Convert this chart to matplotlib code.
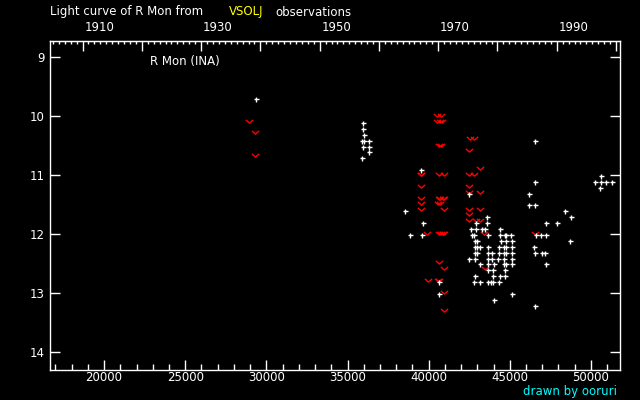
import matplotlib
matplotlib.use("Agg")
import matplotlib.pyplot as plt
from matplotlib.path import Path
from matplotlib.ticker import MultipleLocator, FixedLocator, NullFormatter

# ---- data: JD-2400000 and visual magnitude ----
obs_jd = [29382,
          35973, 35973, 36016, 35911, 36034, 36324, 35954, 36324, 36342, 35911,
          39540, 42497, 38560, 39669, 43611, 42934, 43593, 38868, 39607,
          40654, 40654, 44042, 45151,
          42626, 42934, 43303, 43488, 44411,
          42700, 42811, 43660, 44411, 44690, 44781, 45089,
          42872, 42977, 44473, 44781, 45114,
          42872, 43000, 43180, 43660, 44350, 44658, 44781, 45114,
          42872, 42977, 43660, 43919, 44350, 44658, 44781, 45114,
          42503, 42872, 43660, 43919, 44288, 44658, 45114,
          43180, 43660, 44042, 44658, 44781, 45114,
          43660, 43950, 44720,
          42872, 43980, 44411, 44720,
          42811, 43180, 43660, 43830, 43980, 44350,
          46568, 46568, 46180, 46198, 46568, 48416, 48786, 47247, 47925,
          46611, 46938, 47247, 48724, 46506, 46568, 47000, 47185, 47247, 46549,
          50634, 50264, 50616, 50942, 51312, 50573]
obs_mag = [9.71,
           10.12, 10.22, 10.32, 10.42, 10.42, 10.42, 10.53, 10.53, 10.61, 10.71,
           10.92, 11.32, 11.61, 11.81, 11.71, 11.81, 11.81, 12.02, 12.02,
           12.81, 13.02, 13.12, 13.02,
           11.92, 11.92, 11.92, 11.92, 11.92,
           12.02, 12.02, 12.02, 12.02, 12.02, 12.02, 12.02,
           12.12, 12.12, 12.12, 12.12, 12.12,
           12.22, 12.22, 12.22, 12.22, 12.22, 12.22, 12.22, 12.22,
           12.32, 12.32, 12.32, 12.32, 12.32, 12.32, 12.32, 12.32,
           12.42, 12.42, 12.42, 12.42, 12.42, 12.42, 12.42,
           12.51, 12.51, 12.51, 12.51, 12.51, 12.51,
           12.61, 12.61, 12.61,
           12.71, 12.71, 12.71, 12.71,
           12.81, 12.81, 12.81, 12.81, 12.81, 12.81,
           10.42, 11.12, 11.32, 11.51, 11.51, 11.61, 11.71, 11.81, 11.81,
           12.02, 12.02, 12.02, 12.12, 12.22, 12.32, 12.32, 12.32, 12.51, 13.22,
           11.02, 11.12, 11.12, 11.12, 11.12, 11.22]

lim_jd = [28950, 29320, 29320,
          40544, 40760, 40544, 40698, 40822, 40660, 40760,
          42522, 42811, 42497,
          39546, 39520, 40654, 40962, 42497, 42811, 43180,
          39546, 42497, 43180, 42460,
          39527, 40654, 40720, 40962, 40880,
          39546, 40678, 40600,
          39546, 40962, 42497, 43180,
          42497, 42497, 42909, 43180,
          43426, 39909, 40654, 40962, 40880, 40740,
          40617, 40962, 39934, 40617, 40580, 40962, 40962, 43488, 46568]
lim_mag = [10.08, 10.28, 10.67,
           9.98, 9.98, 10.08, 10.08, 10.08, 10.49, 10.49,
           10.38, 10.38, 10.58,
           10.98, 10.98, 10.98, 10.98, 10.98, 10.98, 10.88,
           11.18, 11.18, 11.29, 11.29,
           11.39, 11.39, 11.39, 11.39, 11.39,
           11.47, 11.47, 11.47,
           11.57, 11.57, 11.57, 11.57,
           11.67, 11.77, 11.77, 11.77,
           11.98, 11.98, 11.98, 11.98, 11.98, 11.98,
           12.47, 12.58, 12.78, 12.78, 12.78, 12.98, 13.29, 12.58, 11.98]

x_ticks = [20000, 25000, 30000, 35000, 40000, 45000, 50000]
y_ticks = [9, 10, 11, 12, 13, 14]
year_labels = [1910, 1930, 1950, 1970, 1990]

plt.rcParams['lines.antialiased'] = False
fs = 8.5

fig = plt.figure(figsize=(6.4, 4.0), dpi=100, facecolor='black')
ax = fig.add_axes([50/640, 1-370/400, 570/640, 329/400], facecolor='black')

vmark = Path([(-1, 0.45), (0, -0.45), (1, 0.45)], [Path.MOVETO, Path.LINETO, Path.LINETO])
ax.plot(lim_jd, lim_mag, ls='none', marker=vmark, ms=5.2, mfc='none', mec='red', mew=1.0)
ax.plot(obs_jd, obs_mag, ls='none', marker='+', ms=3.6, mec='white', mew=1.0)

ax.set_xlim(16667, 51790)
ax.set_ylim(14.305, 8.73)

for s in ax.spines.values():
    s.set_color('white')
    s.set_linewidth(1.0)

ax.xaxis.set_major_locator(FixedLocator(x_ticks))
ax.xaxis.set_minor_locator(MultipleLocator(1000))
ax.yaxis.set_major_locator(FixedLocator(y_ticks))
ax.tick_params(axis='x', which='major', direction='in', length=7.2, width=1, color='white',
               labelcolor='white', labelsize=fs, pad=1)
ax.tick_params(axis='x', which='minor', direction='in', length=4.3, width=1, color='white')
ax.tick_params(axis='y', which='major', direction='in', length=7.2, width=1, color='white',
               labelcolor='white', labelsize=fs, right=True, pad=4)

def jd2yr(j):
    return 2000.0 + (j - 51545.0) / 365.25

def yr2jd(y):
    return 51545.0 + (y - 2000.0) * 365.25

sec = ax.secondary_xaxis('top', functions=(jd2yr, yr2jd))
sec.spines['top'].set_color('white')
sec.xaxis.set_major_locator(MultipleLocator(10))
sec.xaxis.set_minor_locator(MultipleLocator(1))
sec.xaxis.set_major_formatter(NullFormatter())
sec.tick_params(axis='x', which='major', direction='in', length=7.2, width=1, color='white')
sec.tick_params(axis='x', which='minor', direction='in', length=2.5, width=1, color='white')

# year labels, left-aligned at their ticks
for yr in year_labels:
    ax.annotate(str(yr), xy=(yr2jd(yr), 1.0), xycoords=('data', 'axes fraction'),
                xytext=(1.2, 9.5), textcoords='offset points', ha='left', va='center',
                color='white', fontsize=fs, annotation_clip=False)

fig.text(50/640, 1-12/400, 'Light curve of R Mon from', color='white', fontsize=fs,
         ha='left', va='center')
fig.text(229/640, 1-12/400, 'VSOLJ', color='yellow', fontsize=fs, ha='left', va='center')
fig.text(275/640, 1-12/400, 'observations', color='white', fontsize=fs, ha='left', va='center')
fig.text(150/640, 1-61/400, 'R Mon (INA)', color='white', fontsize=fs, ha='left', va='center')
fig.text(617/640, 1-392/400, 'drawn by ooruri', color='cyan', fontsize=fs, ha='right', va='center')

fig.savefig('out.png', dpi=100, facecolor='black')
